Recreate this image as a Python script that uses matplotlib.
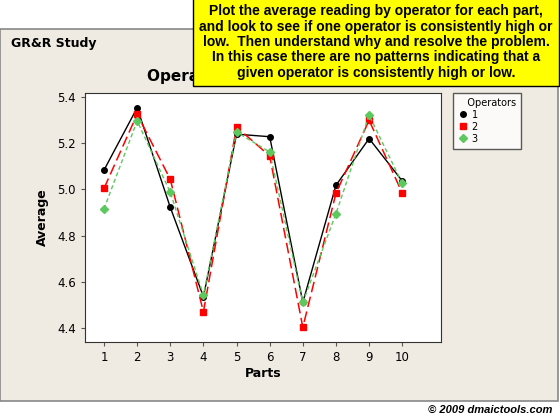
import matplotlib
matplotlib.use("Agg")
import matplotlib.pyplot as plt
from matplotlib.lines import Line2D
from matplotlib.patches import Rectangle

parts = [1, 2, 3, 4, 5, 6, 7, 8, 9, 10]
op1 = [5.083, 5.352, 4.922, 4.536, 5.238, 5.227, 4.512, 5.017, 5.219, 5.036]
op2 = [5.004, 5.324, 5.043, 4.471, 5.269, 5.144, 4.404, 4.983, 5.298, 4.984]
op3 = [4.916, 5.295, 4.987, 4.543, 5.247, 5.161, 4.512, 4.895, 5.320, 5.026]
y_ticks = [4.4, 4.6, 4.8, 5.0, 5.2, 5.4]

note = ("Plot the average reading by operator for each part,\n"
        "and look to see if one operator is consistently high or\n"
        "low.  Then understand why and resolve the problem.\n"
        "In this case there are no patterns indicating that a\n"
        "given operator is consistently high or low.")

beige = "#efebe2"
green = "#5dc85d"

fig = plt.figure(figsize=(5.6, 4.2), dpi=100)
fig.patch.set_facecolor("white")

# beige Minitab panel, kept behind the axes
panel = Rectangle((0, 1 - 401 / 420), 558 / 560, (401 - 29) / 420,
                  transform=fig.transFigure, facecolor=beige,
                  edgecolor="#888888", linewidth=1.2, zorder=-10)
fig.patches.append(panel)

fig.text(11 / 560, 1 - 44 / 420, "GR&R Study", fontsize=9, fontweight="bold",
         va="center", ha="left")
fig.text(263 / 560, 1 - 76 / 420, "Operator * Part Interaction", fontsize=11,
         fontweight="bold", va="center", ha="center")

ax = fig.add_axes([85 / 560, 1 - 341.7 / 420, 356 / 560, 249 / 420])
ax.set_facecolor("white")

ax.plot(parts, op1, color="black", linestyle="-", linewidth=1.0,
        marker="o", markersize=4)
ax.plot(parts, op2, color="red", linestyle=(0, (7, 3)), linewidth=1.1,
        marker="s", markersize=4)
ax.plot(parts, op3, color=green, linestyle=(0, (3, 2)), linewidth=1.0,
        marker="D", markersize=4)

ax.set_xlim(0.426, 11.17)
ax.set_ylim(4.342, 5.417)
ax.set_xticks(parts)
ax.set_yticks(y_ticks)
ax.set_yticklabels([f"{v:.1f}" for v in y_ticks])
ax.tick_params(labelsize=8.5, length=3, color="#555555")
for s in ax.spines.values():
    s.set_color("#333333")
ax.set_xlabel("Parts", fontsize=9, fontweight="bold", labelpad=2)
ax.set_ylabel("Average", fontsize=9, fontweight="bold", labelpad=6)

handles = [
    Line2D([], [], color="black", marker="o", linestyle="none", markersize=4),
    Line2D([], [], color="red", marker="s", linestyle="none", markersize=4),
    Line2D([], [], color=green, marker="D", linestyle="none", markersize=4),
]
leg = fig.legend(handles, ["1", "2", "3"], title="   Operators",
                 loc="upper left", bbox_to_anchor=(453 / 560, 1 - 93 / 420),
                 borderaxespad=0, fontsize=7, title_fontsize=7,
                 frameon=True, fancybox=False,
                 handletextpad=0.4, handlelength=1.0, borderpad=0.5,
                 labelspacing=0.2, alignment="left")
leg.get_frame().set_edgecolor("#333333")
leg.get_frame().set_linewidth(1.0)
leg.get_frame().set_facecolor("white")

# yellow note box
fig.text(376 / 560, 1 - 42 / 420, note, fontsize=10, fontweight="bold",
         family="Liberation Sans", ha="center", va="center", linespacing=1.12,
         zorder=5,
         bbox=dict(boxstyle="square,pad=0.45", facecolor="yellow",
                   edgecolor="black", linewidth=1.0))

fig.text(552 / 560, 1 - 410 / 420, "\u00a9 2009 dmaictools.com", fontsize=8,
         fontweight="bold", style="italic", family="Liberation Sans",
         ha="right", va="center")

fig.savefig("out.png", dpi=100, facecolor=fig.get_facecolor())
